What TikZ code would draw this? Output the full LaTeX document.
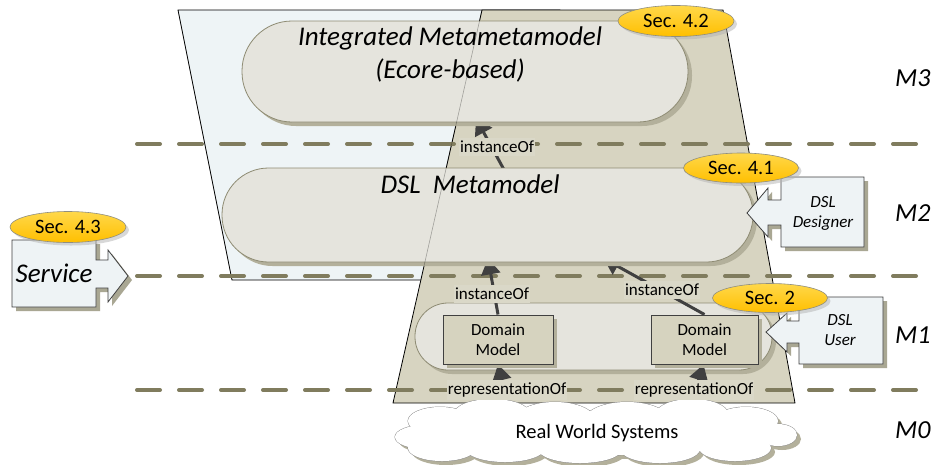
\documentclass[tikz,border=0pt]{standalone}
\usepackage{fontspec}
\setmainfont{Carlito}
\usetikzlibrary{shapes.geometric,shadows,arrows.meta,calc}

\definecolor{paneblue}{HTML}{EEF4F6}
\definecolor{panetan}{HTML}{D7D4C1}
\definecolor{pillfill}{HTML}{E5E4DD}
\definecolor{pillline}{HTML}{8E8B73}
\definecolor{pillshadow}{HTML}{B3B09B}
\definecolor{dashc}{HTML}{807C5E}
\definecolor{boxfill}{HTML}{D6D3BF}
\definecolor{lblfill}{HTML}{DAD8C8}
\definecolor{arrowc}{HTML}{404040}
\definecolor{calloutfill}{HTML}{EEF3F5}
\definecolor{calloutshadow}{HTML}{A9A793}
\definecolor{secTop}{HTML}{FFD84A}
\definecolor{secBot}{HTML}{FFBF00}
\definecolor{secline}{HTML}{8F8E80}
\definecolor{cloudline}{HTML}{8A8A8A}

\pgfdeclarelayer{back}
\pgfdeclarelayer{links}
\pgfsetlayers{back,links,main}

\newcommand{\bigit}{\fontsize{27}{33}\selectfont\itshape}
% puffs of the real-world cloud: centre x, centre y, x radius, y radius
\newcommand{\cloudpuffs}{%
  425/437/30/12, 595/433/185/22,
  440/421/32/14, 492/414/38/15, 555/420/40/18, 627/420/42/18, 692/414/36/15, 746/421/32/14,
  778/435/19/11,
  442/448/34/13, 505/448/40/14, 580/449/42/14, 660/449/40/14, 735/448/36/13}

\begin{document}
\begin{tikzpicture}[x=1pt,y=-1pt,
  pane/.style={draw=black, line width=0.8pt},
  pill/.style={draw=pillline, line width=0.8pt, fill=pillfill, inner sep=0pt,
    rounded corners=#1,
    drop shadow={shadow xshift=4pt, shadow yshift=-4pt, fill=pillshadow, opacity=1}},
  level/.style={draw=dashc, line width=4pt, line cap=round, dash pattern=on 23pt off 19pt},
  link/.style={draw=arrowc, line width=3pt, -{Triangle[length=16pt,width=19pt]}},
  dmbox/.style={draw=arrowc, line width=1pt, fill=boxfill, minimum width=#1,
    minimum height=49pt, inner sep=0pt, align=center,
    font=\fontsize{17}{20}\selectfont,
    drop shadow={shadow xshift=4pt, shadow yshift=-4pt, fill=pillshadow, opacity=1}},
  lbl/.style={fill=lblfill, inner xsep=1pt, inner ysep=3pt, font=\fontsize{17}{17}\selectfont},
  callout/.style={fill=calloutfill, draw=arrowc, line width=0.8pt,
    drop shadow={shadow xshift=4pt, shadow yshift=-4pt, fill=calloutshadow, opacity=1}},
  calltext/.style={anchor=base, inner sep=0pt, font=\fontsize{17}{20}\selectfont\itshape},
  secoval/.style={ellipse, minimum width=116pt, minimum height=31pt, inner sep=0pt,
    top color=secTop, bottom color=secBot, draw=secline, line width=0.6pt,
    font=\fontsize{20.5}{20.5}\selectfont,
    drop shadow={shadow xshift=3pt, shadow yshift=-3pt, fill=black!30, opacity=0.5}},
  lvltext/.style={anchor=base west, inner sep=0pt, font=\fontsize{26}{26}\selectfont\itshape}
]
\useasboundingbox (0,0) rectangle (933,464);

% ---------- background planes, level separators, M1 container ----------
\begin{pgfonlayer}{back}
  \fill[white] (0,0) rectangle (933,464);
  \path[pane, fill=paneblue] (178,10) -- (560,10) -- (560,280) -- (232,280) -- cycle;
  \path[pane, fill=panetan] (482,10) -- (723,10) -- (795,403) -- (393,403) -- cycle;
  \draw[level] (137,144) -- (933,144);
  \draw[level] (137,276) -- (933,276);
  \draw[level] (137,390) -- (933,390);
  \node[pill=33pt, minimum width=357pt, minimum height=67pt] (m1pill) at (593.5,336.5) {};
\end{pgfonlayer}

% ---------- containers on M3 and M2 ----------
\node[pill=50pt, minimum width=446pt, minimum height=101pt] (mmm) at (465,71.5) {};
\node[pill=46.5pt, minimum width=531pt, minimum height=94pt] (dsl) at (487.5,215) {};
\draw[black, opacity=0.3, line width=0.6pt] (482,10) -- (424,266);

\node[anchor=base, inner sep=0pt, font=\bigit] (mmmt1) at (450,45) {Integrated Metametamodel};
\node[anchor=base, inner sep=0pt, font=\bigit] (mmmt2) at (450,78) {(Ecore-based)};
\node[anchor=base, inner sep=0pt, font=\bigit] (dslt) at (470,193) {DSL~~Metamodel};

% ---------- domain models ----------
\node[dmbox=110pt] (dm1) at (498,339.5) {Domain\\Model};
\node[dmbox=107pt] (dm2) at (704.5,339.5) {Domain\\Model};

% ---------- real world cloud ----------
\foreach \cx/\cy/\rx/\ry in \cloudpuffs
  \fill[pillshadow] (\cx+4,\cy+4) ellipse [x radius=\rx, y radius=\ry];
\foreach \cx/\cy/\rx/\ry in \cloudpuffs
  \filldraw[fill=white, draw=cloudline, line width=0.9pt] (\cx,\cy) ellipse [x radius=\rx, y radius=\ry];
\foreach \cx/\cy/\rx/\ry in \cloudpuffs
  \fill[white] (\cx,\cy) ellipse [x radius=\rx, y radius=\ry];
\node[inner sep=0pt, font=\fontsize{20.5}{20.5}\selectfont] (cloud) at (597,433) {Real World Systems};
\coordinate (rw1) at (510,414);
\coordinate (rw2) at (688,414);

% ---------- relations ----------
\begin{pgfonlayer}{links}
  \draw[link] ([xshift=17pt,yshift=-3pt]dsl.north) -- ([xshift=11pt,yshift=4pt]mmm.south);
  \draw[link] (dm1.north) -- ([xshift=0.5pt,yshift=4pt]dsl.south);
  \draw[link] (dm2.north) -- ([xshift=116pt,yshift=4pt]dsl.south);
  \draw[link] (rw1) -- (dm1.south);
  \draw[link] (rw2) -- ([xshift=-1pt]dm2.south);
\end{pgfonlayer}

\node[lbl] (io1) at (497,147) {instanceOf};
\node[lbl] (io2) at (492,294) {instanceOf};
\node[lbl] (io3) at (662,290) {instanceOf};
\node[lbl] (rep1) at (507,390) {representationOf};
\node[lbl] (rep2) at (694,390) {representationOf};

% ---------- roles ----------
\path[callout] (12,240) -- (96,240) -- (96,260) -- (108,260) -- (108,250) -- (128,276)
  -- (108,302) -- (108,288) -- (96,288) -- (96,307) -- (12,307) -- cycle;
\node[anchor=base, inner sep=0pt, font=\bigit] (svc) at (54,282) {Service};

\path[callout] (864,177) -- (781,177) -- (781,200) -- (768,200) -- (768,188) -- (747,213)
  -- (768,237) -- (768,225) -- (781,225) -- (781,247) -- (864,247) -- cycle;
\node[calltext] (des1) at (823,207) {DSL};
\node[calltext] (des2) at (823,227) {Designer};

\path[callout] (883,297) -- (799,297) -- (799,321) -- (787,321) -- (787,313) -- (766,332)
  -- (787,352) -- (787,343) -- (799,343) -- (799,364) -- (883,364) -- cycle;
\node[calltext] (usr1) at (840,325) {DSL};
\node[calltext] (usr2) at (840,345) {User};

% ---------- section references ----------
\node[secoval] (s42) at (676,21) {Sec. 4.2};
\node[secoval, minimum width=115pt, minimum height=30pt] (s41) at (741,168) {Sec. 4.1};
\node[secoval] (s43) at (68,227) {Sec. 4.3};
\node[secoval, minimum width=115pt, minimum height=29pt] (s2) at (770,298) {Sec. 2};

% ---------- level names ----------
\node[lvltext] (m3) at (895,86) {M3};
\node[lvltext] (m2) at (895,221) {M2};
\node[lvltext] (m1) at (895,343) {M1};
\node[lvltext] (m0) at (895,438) {M0};
\end{tikzpicture}
\end{document}
